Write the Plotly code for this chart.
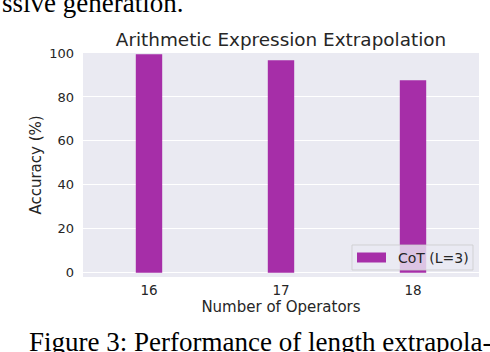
import plotly.graph_objects as go

# data
operators = ["16", "17", "18"]
accuracy = [99.4, 96.7, 87.6]
series_name = "CoT (L=3)"
y_ticks = [0, 20, 40, 60, 80, 100]

chart_title = "Arithmetic Expression Extrapolation"
x_title = "Number of Operators"
y_title = "Accuracy (%)"
text_above = "ssive generation."
caption = "Figure 3: Performance of length extrapola-"

BAR_COLOR = "#a62ea8"
BG = "#eaeaf2"
INK = "#262626"

# plot area in pixels
W, H = 490, 352
L, R, T, B = 83, 479, 53, 277


def px_x(p):
    return (p - L) / (R - L)


def px_y(p):
    return (B - p) / (B - T)


fig = go.Figure()

fig.add_trace(go.Bar(
    x=operators, y=accuracy,
    width=0.2,
    marker=dict(color=BAR_COLOR, line=dict(width=0)),
    name=series_name,
    showlegend=False,
))

# legend drawn by hand (matplotlib style)
fig.add_shape(type="rect", xref="paper", yref="paper",
              x0=px_x(352), x1=px_x(473), y0=px_y(270), y1=px_y(245),
              fillcolor="rgba(234,234,242,0.8)",
              line=dict(color="rgba(204,204,204,0.8)", width=1),
              layer="above")
fig.add_shape(type="rect", xref="paper", yref="paper",
              x0=px_x(357), x1=px_x(386), y0=px_y(262.5), y1=px_y(252.5),
              fillcolor=BAR_COLOR, line=dict(width=0), layer="above")
fig.add_annotation(text=series_name, xref="paper", yref="paper",
                   x=px_x(396), y=px_y(257.5), xanchor="left", yanchor="middle",
                   showarrow=False, font=dict(size=14, color=INK))

# surrounding paper text
fig.add_annotation(text=text_above, xref="paper", yref="paper",
                   x=px_x(0), y=px_y(3), xanchor="left", yanchor="middle",
                   showarrow=False,
                   font=dict(family="Liberation Serif", size=27, color="black"))
fig.add_annotation(text=caption, xref="paper", yref="paper",
                   x=px_x(27), y=px_y(342), xanchor="left", yanchor="middle",
                   showarrow=False,
                   font=dict(family="Liberation Serif", size=27, color="black"))

fig.update_layout(
    width=W, height=H,
    margin=dict(l=L, r=W - R, t=T, b=H - B),
    paper_bgcolor="white",
    plot_bgcolor=BG,
    font=dict(family="DejaVu Sans", color=INK),
    title=dict(text=chart_title, x=281 / W, xanchor="center",
               y=1 - 40 / H, yanchor="middle",
               font=dict(size=18.4, color=INK)),
    bargap=0.8,
)

fig.update_xaxes(
    title=dict(text=x_title, font=dict(size=15), standoff=4),
    tickfont=dict(size=13.5),
    showgrid=False, showline=False, ticks="",
    ticklabelstandoff=3,
    range=[-0.5, 2.5],
    automargin=False,
)
fig.update_yaxes(
    title=dict(text=y_title, font=dict(size=15), standoff=3),
    tickfont=dict(size=13),
    tickvals=y_ticks,
    range=[-1.95, 100],
    showgrid=True, gridcolor="white", gridwidth=1,
    zeroline=True, zerolinecolor="white", zerolinewidth=1,
    showline=False, ticks="",
    ticklabelstandoff=8,
    automargin=False,
)

fig.write_html("out.html",
               config={"displayModeBar": False},
               post_script="document.body.style.margin='0';")
